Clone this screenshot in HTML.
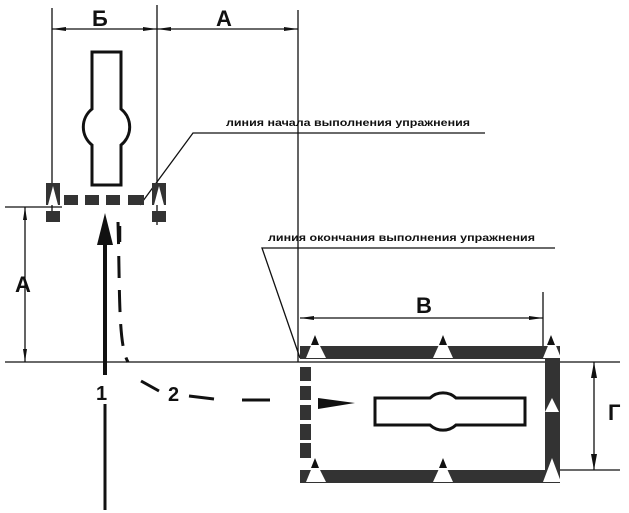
<!DOCTYPE html>
<html><head><meta charset="utf-8"><style>
html,body{margin:0;padding:0;background:#fff;}
svg{display:block}
text{font-family:"Liberation Sans",sans-serif;font-weight:bold;fill:#111}
</style></head><body>
<svg width="629" height="513" viewBox="0 0 629 513" xmlns="http://www.w3.org/2000/svg">
<g stroke="#111" fill="none" stroke-width="1.3">
<line x1="52" y1="8" x2="52" y2="218"/>
<line x1="157" y1="5" x2="157" y2="225"/>
<line x1="298" y1="10" x2="298" y2="362"/>
<line x1="52" y1="29" x2="298" y2="29"/>
<line x1="5" y1="207" x2="62" y2="207"/>
<line x1="25" y1="207" x2="25" y2="362"/>
<line x1="5" y1="362" x2="620" y2="362"/>
<polyline points="140,205 193,133 485,133"/>
<polyline points="300,358 262,248 555,248"/>
<line x1="300" y1="318" x2="543" y2="318"/>
<line x1="543" y1="292" x2="543" y2="350"/>
<line x1="545" y1="470" x2="620" y2="470"/>
<line x1="594" y1="362" x2="594" y2="470"/>
</g>
<g fill="#111">
<polygon points="52,29 66,27 66,31"/><polygon points="157,29 143,27 143,31"/>
<polygon points="157,29 171,27 171,31"/><polygon points="298,29 284,27 284,31"/>
<polygon points="25,207 23,220 27,220"/><polygon points="25,362 23,349 27,349"/>
<polygon points="300,318 314,316 314,320"/><polygon points="543,318 529,316 529,320"/>
<polygon points="594,362 591,378 597,378"/><polygon points="594,470 591,454 597,454"/>
</g>
<path d="M92,52 H121 V109 A23,23 0 0 1 121,145 V185 H92 V145 A23,23 0 0 1 92,109 Z" fill="none" stroke="#111" stroke-width="3"/>
<g fill="#333">
<rect x="64" y="195" width="14" height="10"/><rect x="85" y="195" width="14" height="10"/>
<rect x="106" y="195" width="14" height="10"/><rect x="128" y="195" width="16" height="10"/>
<rect x="46" y="183" width="14" height="22"/><rect x="46" y="211" width="14" height="11"/>
<rect x="152" y="183" width="14" height="22"/><rect x="152" y="211" width="14" height="11"/>
</g>
<g fill="#fff"><polygon points="53,186 48,205 58,205"/><polygon points="159,186 154,205 164,205"/></g>
<line x1="105" y1="240" x2="105" y2="375" stroke="#111" stroke-width="4"/>
<line x1="105" y1="404" x2="105" y2="510" stroke="#111" stroke-width="3"/>
<polygon points="105,213 97,245 113,245" fill="#111"/>
<line x1="120" y1="226" x2="120" y2="242" stroke="#111" stroke-width="2.5"/>
<text x="96" y="400" font-size="20">1</text>
<path d="M118,222 C120,290 118,345 128,362" fill="none" stroke="#111" stroke-width="3" stroke-dasharray="22,12"/>
<line x1="141" y1="381" x2="159" y2="391" stroke="#111" stroke-width="3"/>
<text x="168" y="401" font-size="20">2</text>
<line x1="189" y1="396" x2="214" y2="399" stroke="#111" stroke-width="3"/>
<line x1="242" y1="400" x2="270" y2="400" stroke="#111" stroke-width="3"/>
<polygon points="318,398 355,403 318,409" fill="#111"/>
<g fill="#333">
<rect x="300" y="346" width="260" height="13"/>
<rect x="300" y="470" width="260" height="13"/>
<rect x="545" y="359" width="15" height="59"/>
<rect x="545" y="413" width="15" height="57"/>
<rect x="300" y="367" width="11" height="14"/><rect x="300" y="386" width="11" height="14"/>
<rect x="300" y="405" width="11" height="15"/><rect x="300" y="424" width="11" height="16"/>
<rect x="300" y="443" width="11" height="15"/>
</g>
<g fill="#fff">
<polygon points="315,336 306,358 326,358"/><polygon points="443,336 433,358 453,358"/><polygon points="552,336 543,358 561,358"/>
<polygon points="315,460 306,482 326,482"/><polygon points="443,460 433,482 453,482"/><polygon points="552,458 543,482 561,482"/>
<polygon points="552,398 545,412 559,412"/>
</g>
<g fill="#111">
<polygon points="315,335 311,345 319,345"/><polygon points="443,335 439,345 447,345"/><polygon points="551,335 547,345 555,345"/>
<polygon points="315,458 311,468 319,468"/><polygon points="443,458 439,468 447,468"/>
</g>
<path d="M375,398 H430 A19,19 0 0 1 456,398 H525 V425 H456 A19,19 0 0 1 430,425 H375 Z" fill="none" stroke="#111" stroke-width="3"/>
<text x="92" y="26" font-size="22">Б</text>
<text x="216" y="26" font-size="22">А</text>
<text x="15" y="292" font-size="22">А</text>
<text x="416" y="313" font-size="22">В</text>
<text x="608" y="420" font-size="22">Г</text>
<text x="226" y="126" font-size="10.5" textLength="244" lengthAdjust="spacingAndGlyphs">линия начала выполнения упражнения</text>
<text x="268" y="241" font-size="10.5" textLength="267" lengthAdjust="spacingAndGlyphs">линия окончания выполнения упражнения</text>
</svg>
</body></html>
